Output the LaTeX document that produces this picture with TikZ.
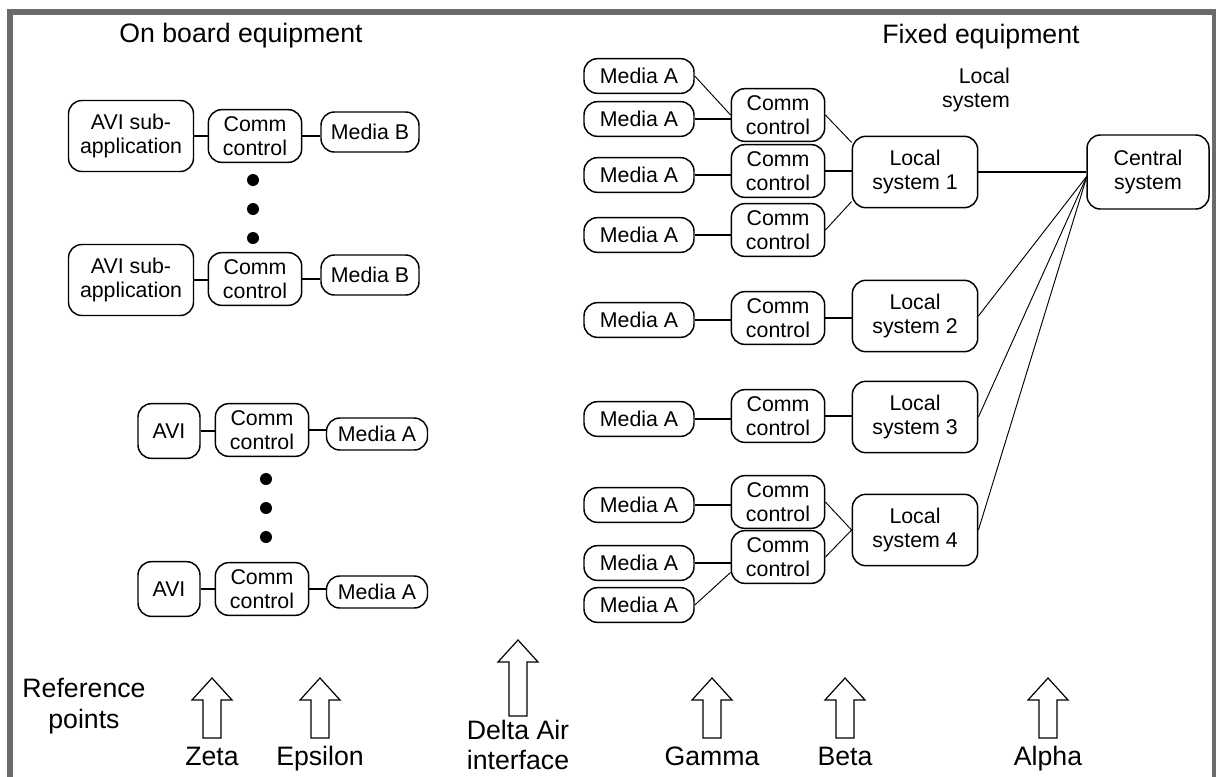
\documentclass[tikz,border=0pt]{standalone}
\usepackage{fontspec}
\setmainfont{Liberation Sans}
\definecolor{framegray}{HTML}{6B6B6B}

\tikzset{
  box/.style={draw, line width=1.1pt, rounded corners=10pt, fill=white, align=center,
    inner sep=0pt, font=\fontsize{16}{18}\selectfont},
  avisub/.style={box, minimum width=93.75pt, minimum height=53.25pt},
  comm/.style={box, minimum width=70pt, minimum height=39.5pt},
  mediab/.style={box, minimum width=73.5pt, minimum height=30pt},
  avi/.style={box, minimum width=46.5pt, minimum height=41pt},
  medial/.style={box, minimum width=75.75pt, minimum height=24pt},
  mediar/.style={box, minimum width=82.5pt, minimum height=26pt},
  localsys/.style={box, minimum width=94pt, minimum height=53.5pt},
  centralbox/.style={box, minimum width=91.5pt, minimum height=55.5pt},
  dot/.style={circle, fill=black, inner sep=0pt, minimum size=9pt},
  link/.style={line width=1.2pt},
  thinlink/.style={line width=0.7pt},
  title/.style={font=\fontsize{20}{23}\selectfont, align=center},
  reflabel/.style={title, anchor=base},
  refline/.style={draw, line width=0.9pt},
  frame/.style={draw=framegray, line width=4.5pt},
}

% block arrow: x, top, bottom
\newcommand{\refarrow}[3]{%
  \draw[refline] (#1-9,#3) -- (#1-9,#2+22) -- (#1-20,#2+22) -- (#1,#2)
    -- (#1+20,#2+22) -- (#1+9,#2+22) -- (#1+9,#3) -- cycle;}

\begin{document}
\begin{tikzpicture}[x=0.75pt, y=-0.75pt]
  \useasboundingbox (0,0) rectangle (1216,776);
  \clip (0,0) rectangle (1216,776);
  \fill[white] (0,0) rectangle (1216,776);
  \draw[frame] (10,12) rectangle (1215,800);

  % Titles
  \node[title] (onboard) at (241,36) {On board equipment};
  \node[title] (fixed) at (981,37) {Fixed equipment};
  \node[font=\fontsize{16}{18}\selectfont, align=right] (lslabel) at (976,90) {Local\\system};

  % On board equipment, sub-applications
  \node[avisub] (avs1) at (131,136) {AVI sub-\\application};
  \node[comm] (lc1) at (255,136) {Comm\\control};
  \node[mediab] (mb1) at (370,132) {Media B};
  \node[dot] (d1) at (253,180) {};
  \node[dot] (d2) at (253,209) {};
  \node[dot] (d3) at (253,238) {};
  \node[avisub] (avs2) at (131,280) {AVI sub-\\application};
  \node[comm] (lc2) at (255,279) {Comm\\control};
  \node[mediab] (mb2) at (370,275) {Media B};

  % On board equipment, AVI
  \node[avi] (avi1) at (169,431) {AVI};
  \node[comm] (lc3) at (262,430) {Comm\\control};
  \node[medial] (ma1) at (377,434) {Media A};
  \node[dot] (d4) at (266,479) {};
  \node[dot] (d5) at (266,508) {};
  \node[dot] (d6) at (266,537) {};
  \node[avi] (avi2) at (169,589) {AVI};
  \node[comm] (lc4) at (262,589) {Comm\\control};
  \node[medial] (ma2) at (377,592) {Media A};

  % Fixed equipment
  \node[mediar] (rma1) at (639,76) {Media A};
  \node[mediar] (rma2) at (639,119) {Media A};
  \node[comm] (rcc1) at (778,115) {Comm\\control};
  \node[mediar] (rma3) at (639,175) {Media A};
  \node[comm] (rcc2) at (778,171) {Comm\\control};
  \node[mediar] (rma4) at (639,235) {Media A};
  \node[comm] (rcc3) at (778,230) {Comm\\control};
  \node[localsys] (loc1) at (915,172) {Local\\system 1};
  \node[centralbox] (central) at (1148,172) {Central\\system};

  \node[mediar] (rma5) at (639,320) {Media A};
  \node[comm] (rcc4) at (778,318) {Comm\\control};
  \node[localsys] (loc2) at (915,316) {Local\\system 2};

  \node[mediar] (rma6) at (639,419) {Media A};
  \node[comm] (rcc5) at (778,416) {Comm\\control};
  \node[localsys] (loc3) at (915,417) {Local\\system 3};

  \node[mediar] (rma7) at (639,505) {Media A};
  \node[comm] (rcc6) at (778,502) {Comm\\control};
  \node[mediar] (rma8) at (639,563) {Media A};
  \node[comm] (rcc7) at (778,557) {Comm\\control};
  \node[mediar] (rma9) at (639,605) {Media A};
  \node[localsys] (loc4) at (915,530) {Local\\system 4};

  \coordinate (hub) at (1087,176);

  % Links on board
  \draw[link] (avs1.east) -- (avs1.east -| lc1.west);
  \draw[link] (lc1.east) -- (lc1.east -| mb1.west);
  \draw[link] (avs2.east) -- (avs2.east -| lc2.west);
  \draw[link] (lc2.east) -- (lc2.east -| mb2.west);
  \draw[link] (avi1.east) -- (avi1.east -| lc3.west);
  \draw[link] (lc3.east) -- (lc3.east -| ma1.west);
  \draw[link] (avi2.east) -- (avi2.east -| lc4.west);
  \draw[link] (lc4.east) -- (lc4.east -| ma2.west);

  % Links fixed
  \draw[thinlink] (rma1.east) -- (rcc1.west);
  \draw[link] (rma2.east) -- (rma2.east -| rcc1.west);
  \draw[link] (rma3.east) -- (rma3.east -| rcc2.west);
  \draw[link] (rma4.east) -- (rma4.east -| rcc3.west);
  \draw[thinlink] (rcc1.east) -- (loc1.155);
  \draw[link] (rcc2.east) -- (rcc2.east -| loc1.west);
  \draw[thinlink] (rcc3.east) -- (loc1.205);
  \draw[link] (loc1.east) -- (loc1.east -| central.west);

  \draw[link] (rma5.east) -- (rma5.east -| rcc4.west);
  \draw[link] (rcc4.east) -- (rcc4.east -| loc2.west);
  \draw[link] (rma6.east) -- (rma6.east -| rcc5.west);
  \draw[link] (rcc5.east) -- (rcc5.east -| loc3.west);

  \draw[link] (rma7.east) -- (rma7.east -| rcc6.west);
  \draw[link] (rma8.east) -- (rma8.east -| rcc7.west);
  \draw[thinlink] (rma9.east) -- (rcc7.198);
  \draw[thinlink] (rcc6.east) -- (loc4.west);
  \draw[thinlink] (rcc7.east) -- (loc4.west);

  \draw[thinlink] (loc2.east) -- (hub);
  \draw[thinlink] (loc3.east) -- (hub);
  \draw[thinlink] (loc4.east) -- (hub);

  % Reference points
  \node[title] (refpts) at (84,706) {Reference\\points};
  \refarrow{212}{678}{738}
  \refarrow{320}{678}{738}
  \refarrow{518}{640}{716}
  \refarrow{712}{678}{738}
  \refarrow{845}{678}{738}
  \refarrow{1048}{678}{738}
  \node[reflabel] (zeta) at (212,765) {Zeta};
  \node[reflabel] (epsilon) at (320,765) {Epsilon};
  \node[title] (delta) at (518,745) {Delta Air\\interface};
  \node[reflabel] (gamma) at (712,765) {Gamma};
  \node[reflabel] (beta) at (845,765) {Beta};
  \node[reflabel] (alpha) at (1048,765) {Alpha};
\end{tikzpicture}
\end{document}
